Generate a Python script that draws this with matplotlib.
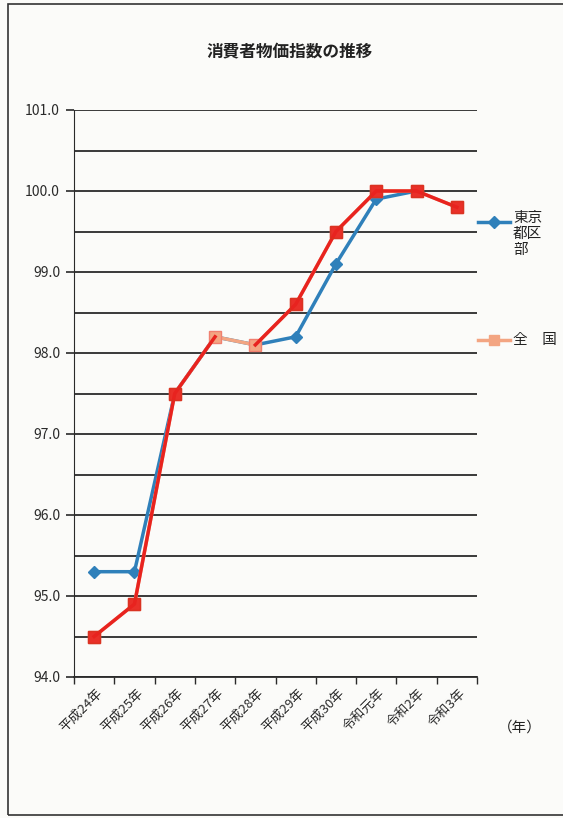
import numpy as np
import matplotlib
matplotlib.use("Agg")
import matplotlib.pyplot as plt
from matplotlib.lines import Line2D
from matplotlib.patches import Rectangle

plt.rcParams['font.family'] = ['Noto Sans CJK JP', 'DejaVu Sans']

years = ["平成24年", "平成25年", "平成26年", "平成27年", "平成28年",
         "平成29年", "平成30年", "令和元年", "令和2年", "令和3年"]
tokyo = [95.3, 95.3, 97.5, 98.2, 98.1, 98.2, 99.1, 99.9, 100.0, np.nan]
zenkoku = [94.5, 94.9, 97.5, 98.2, 98.1, 98.6, 99.5, 100.0, 100.0, 99.8]

BLUE = "#2f80ba"
ORANGE = "#f3a582"
RED = "#e8231f"
INK = "#2a2a2a"

fig = plt.figure(figsize=(5.63, 8.18), dpi=100)
fig.patch.set_facecolor("#fbfbf9")
fig.patches.append(Rectangle((8 / 563, 3 / 818), 1.0, 811 / 818,
                             transform=fig.transFigure, fill=False,
                             edgecolor="#333333", linewidth=1.2))

ax = fig.add_axes([74 / 563, 1 - 677 / 818, 403 / 563, 567 / 818])
ax.set_facecolor("none")

x = np.arange(len(years))
z = np.array(zenkoku)

# 東京都区部
ax.plot(x, tokyo, color=BLUE, lw=2.5, marker="D", ms=6,
        mfc=BLUE, mec=BLUE, zorder=3)
# 全国: orange base with red overlay, as in the scan
ax.plot(x, z, color=ORANGE, lw=2.5, marker="s", ms=8.5,
        mfc=ORANGE, mec="#f08070", zorder=4)
ax.plot(x[:4], z[:4], color=RED, lw=2.5, zorder=5)
ax.plot(x[4:], z[4:], color=RED, lw=2.5, zorder=5)
red_idx = [0, 1, 2, 5, 6, 7, 8, 9]
ax.plot(x[red_idx], z[red_idx], ls="none", marker="s", ms=8.5,
        mfc=RED, mec="#d8301e", alpha=0.9, zorder=6)

ax.set_xlim(-0.5, len(years) - 0.5)
ax.set_ylim(94.0, 101.0)
yt = np.arange(94.0, 101.01, 1.0)
ax.set_yticks(yt)
ax.set_yticklabels([f"{v:.1f}" for v in yt], fontsize=10, color=INK)
ax.set_yticks(np.arange(94.5, 101.0, 1.0), minor=True)
ax.yaxis.grid(True, which="both", color=INK, lw=1.3)
ax.set_axisbelow(True)
ax.tick_params(axis="y", which="major", length=6, width=1.2, color=INK, pad=4)
ax.tick_params(axis="y", which="minor", length=0)

ax.set_xticks(np.arange(-0.5, len(years), 1.0))
ax.set_xticklabels([])
ax.tick_params(axis="x", length=5, width=1, color=INK)
for i, lab in enumerate(years):
    ax.text(i + 0.05, 93.88, lab, rotation=45, ha="right", va="top",
            rotation_mode="anchor", fontsize=9.5, color=INK)

for s in ["top", "right"]:
    ax.spines[s].set_visible(False)
ax.spines["left"].set_color(INK)
ax.spines["bottom"].set_color(INK)
ax.spines["bottom"].set_linewidth(1.3)

fig.text(290 / 563, 1 - 52 / 818, "消費者物価指数の推移", ha="center",
         va="center", fontsize=12, fontweight="bold", color="#222222")
fig.text(520 / 563, 1 - 728 / 818, "（年）", ha="center", va="center",
         fontsize=10.5, color="#222222")

# legend
fig.add_artist(Line2D([478 / 563, 494 / 563, 510 / 563], [1 - 222 / 818] * 3,
                      color=BLUE, lw=2.5, marker="D", ms=6, markevery=[1],
                      transform=fig.transFigure))
fig.text(513 / 563, 1 - 211 / 818, "東京\n都区\n部", ha="left", va="top",
         fontsize=10.5, linespacing=1.2, color="#222222")
fig.add_artist(Line2D([478 / 563, 494 / 563, 510 / 563], [1 - 340 / 818] * 3,
                      color=ORANGE, lw=2.5, marker="s", ms=7, markevery=[1],
                      transform=fig.transFigure))
fig.text(513 / 563, 1 - 340 / 818, "全　国", ha="left", va="center",
         fontsize=10.5, color="#222222")

fig.savefig("out.png", dpi=100, facecolor=fig.get_facecolor())
